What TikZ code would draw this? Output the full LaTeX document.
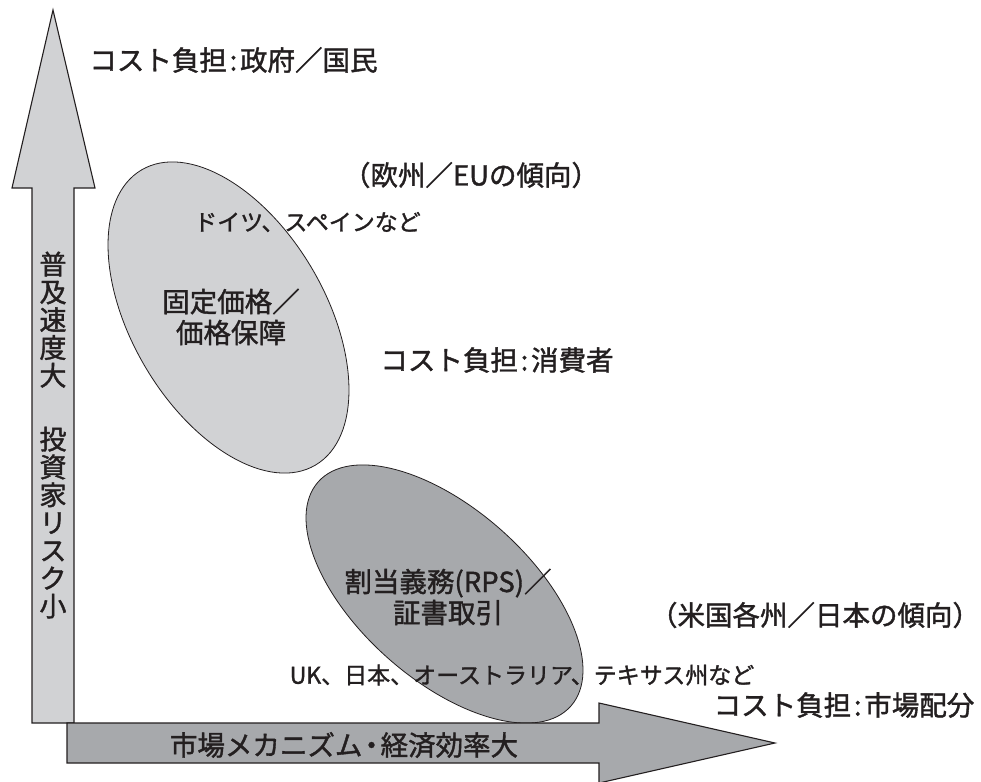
\documentclass[tikz,border=0pt]{standalone}
\usepackage{fontspec}
\setmainfont{Noto Sans CJK JP}[RawFeature={embolden=1.4}]
\usetikzlibrary{shapes.geometric}
\definecolor{lightfill}{HTML}{D1D2D4}
\definecolor{darkfill}{HTML}{A7A9AC}
\definecolor{ink}{HTML}{231F20}
\newcommand{\jc}{\kern0.1em:\kern0.1em}
\newcommand{\jdot}{\kern-0.17em・\kern-0.17em}
\tikzset{
  lab/.style={font=\fontsize{27.5}{31}\selectfont, text=ink, inner sep=0pt, align=center},
  smalllab/.style={font=\fontsize{23}{27}\selectfont, text=ink, inner sep=0pt},
  blob/.style={ellipse, draw=ink, line width=0.8pt, inner sep=0pt},
  bigarrow/.style={draw=ink, line width=1.1pt, line join=miter}
}
\begin{document}
\begin{tikzpicture}[x=1pt,y=-1pt]
\useasboundingbox (0,0) rectangle (981,781);
% ellipses
\node[blob, fill=lightfill, minimum width=342.6pt, minimum height=193.6pt, rotate=-59.5] (e1) at (228.5,317.5) {};
\node[blob, fill=darkfill, minimum width=337.8pt, minimum height=171pt, rotate=-41.6] (e2) at (444.5,594) {};
% vertical arrow
\draw[bigarrow, fill=lightfill] (32,723) -- (32,188) -- (12,188) -- (53,10) -- (95,188) -- (74,188) -- (74,723) -- cycle;
% horizontal arrow
\draw[bigarrow, fill=darkfill] (67,723) -- (599,723) -- (599,703) -- (775,743) -- (599,783) -- (599,763) -- (67,763) -- cycle;
% axis labels
\node[lab, font=\fontsize{27}{27.8}\selectfont] (ylab) at (53,435) {普\\及\\速\\度\\大\\[36pt]投\\資\\家\\リ\\ス\\ク\\小};
\node[lab] (xlab) at (344,745) {市場メカニズム\jdot 経済効率大};
% texts
\node[lab] (cgov) at (233.5,60) {コスト負担\jc 政府／国民};
\node[lab] (eu) at (471,175) {（欧州／EUの傾向）};
\node[smalllab] (de) at (307.5,222) {ドイツ、スペインなど};
\node[lab] (fit) at (231,317) {固定価格／\\価格保障};
\node[lab] (ccons) at (497,360) {コスト負担\jc 消費者};
\node[lab] (rps) at (448,597) {割当義務(RPS)／\\証書取引};
\node[lab] (us) at (815,615) {（米国各州／日本の傾向）};
\node[smalllab] (uk) at (522,675) {UK、日本、オーストラリア、テキサス州など};
\node[lab] (cmkt) at (844,705) {コスト負担\jc 市場配分};
\end{tikzpicture}
\end{document}
